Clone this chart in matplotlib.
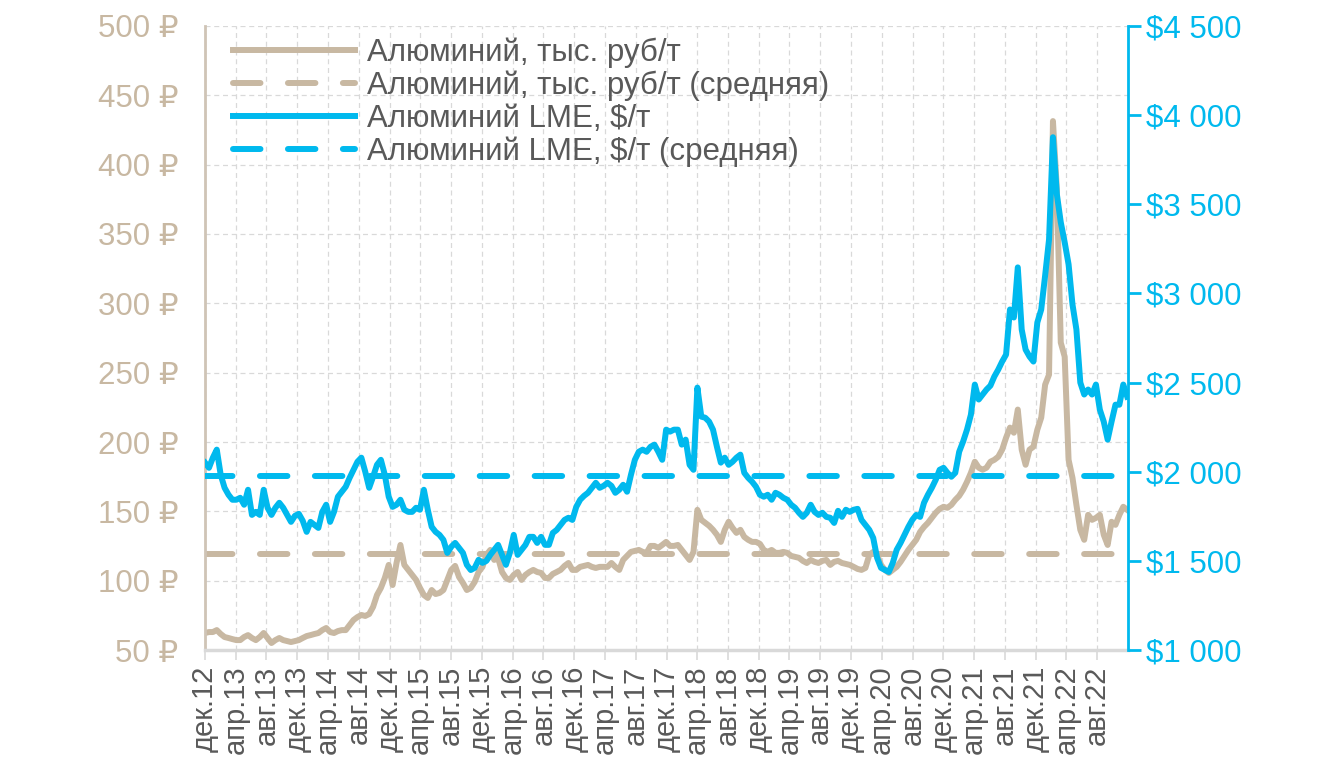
import numpy as np
import pandas as pd
import matplotlib
matplotlib.use("Agg")
import matplotlib.pyplot as plt

plt.rcParams["font.family"] = ["Liberation Sans", "DejaVu Sans"]

# цены на алюминий: LME, $/т и в рублях, тыс. руб/т (примерно раз в полмесяца)
lme_usd = [
    2051, 2022, 2079, 2124, 1983, 1910, 1871, 1843, 1843, 1854,
    1815, 1899, 1758, 1775, 1758, 1899, 1798, 1758, 1798, 1826,
    1798, 1758, 1719, 1753, 1764, 1725, 1663, 1719, 1702, 1685,
    1775, 1815, 1719, 1775, 1860, 1888, 1916, 1966, 2011, 2056,
    2079, 2000, 1910, 1972, 2039, 2067, 1983, 1860, 1803, 1815,
    1843, 1787, 1775, 1775, 1798, 1787, 1899, 1787, 1691, 1663,
    1646, 1618, 1545, 1579, 1601, 1573, 1545, 1478, 1449, 1461,
    1506, 1489, 1500, 1534, 1562, 1590, 1534, 1478, 1545, 1646,
    1534, 1562, 1590, 1635, 1635, 1601, 1635, 1590, 1590, 1657,
    1674, 1702, 1730, 1742, 1730, 1803, 1843, 1865, 1882, 1910,
    1938, 1910, 1921, 1938, 1921, 1882, 1899, 1927, 1888, 1983,
    2067, 2112, 2124, 2112, 2140, 2152, 2112, 2067, 2236, 2225,
    2236, 2236, 2152, 2180, 2039, 2011, 2472, 2309, 2303, 2281,
    2236, 2140, 2051, 2079, 2039, 2056, 2079, 2096, 1994, 1966,
    1944, 1916, 1871, 1860, 1871, 1843, 1882, 1871, 1854, 1843,
    1815, 1798, 1770, 1747, 1770, 1815, 1775, 1758, 1770, 1747,
    1742, 1713, 1781, 1747, 1787, 1775, 1787, 1792, 1730, 1702,
    1674, 1629, 1517, 1461, 1449, 1438, 1489, 1562, 1601, 1646,
    1691, 1730, 1758, 1747, 1826, 1871, 1910, 1955, 2011, 2022,
    1994, 1972, 1994, 2112, 2169, 2236, 2320, 2489, 2405, 2433,
    2461, 2483, 2534, 2573, 2618, 2657, 2910, 2865, 3146, 2798,
    2685, 2646, 2618, 2837, 2910, 3101, 3303, 3876, 3556, 3399,
    3287, 3163, 2938, 2798, 2500, 2433, 2461, 2433, 2489, 2348,
    2281, 2180, 2281, 2376, 2376, 2489, 2421,
]
alu_rub = [
    62.3, 63.0, 63.0, 64.4, 61.6, 59.4, 58.7, 57.9, 57.2, 57.2,
    59.4, 60.8, 58.7, 57.2, 59.4, 62.3, 58.7, 55.1, 57.2, 58.7,
    57.2, 56.5, 55.8, 56.5, 57.2, 58.7, 60.1, 60.8, 61.6, 62.3,
    64.4, 65.9, 63.0, 62.3, 63.7, 64.4, 64.4, 68.1, 71.7, 73.8,
    75.3, 74.6, 76.0, 81.1, 89.7, 94.8, 102.0, 111.4, 96.9, 112.8,
    125.8, 111.4, 107.8, 104.2, 100.6, 94.8, 89.7, 87.6, 93.3, 90.4,
    91.2, 93.3, 100.6, 107.8, 110.7, 102.7, 98.4, 93.3, 94.8, 99.1,
    106.3, 110.0, 118.6, 122.2, 115.0, 116.5, 106.3, 102.0, 100.6, 104.2,
    106.3, 100.6, 104.2, 106.3, 107.8, 106.3, 105.6, 102.0, 102.0, 104.9,
    106.3, 107.8, 110.7, 112.8, 107.8, 107.8, 110.0, 110.7, 111.4, 110.0,
    109.2, 110.0, 110.0, 110.0, 112.8, 110.0, 107.8, 115.0, 117.9, 120.8,
    121.5, 122.2, 120.8, 120.1, 125.1, 125.1, 123.7, 125.8, 128.0, 125.1,
    125.1, 125.8, 122.2, 118.6, 115.0, 120.8, 151.1, 143.9, 141.7, 139.6,
    136.7, 133.1, 128.0, 136.7, 142.5, 138.1, 134.5, 136.7, 131.6, 129.5,
    128.0, 128.0, 126.6, 122.2, 120.8, 122.2, 120.1, 120.1, 120.8, 120.1,
    117.9, 117.2, 116.5, 114.3, 112.8, 115.0, 113.6, 112.8, 114.3, 115.0,
    111.4, 113.6, 114.3, 112.8, 112.1, 111.4, 110.0, 108.5, 107.8, 109.2,
    118.6, 120.8, 118.6, 111.4, 107.8, 105.6, 107.8, 110.0, 113.6, 117.9,
    122.2, 125.8, 129.5, 135.2, 138.8, 141.7, 145.3, 149.0, 151.8, 153.3,
    152.6, 154.7, 158.3, 161.2, 165.6, 171.3, 177.8, 185.8, 181.5, 180.0,
    181.5, 185.8, 187.2, 189.4, 194.5, 203.1, 210.4, 206.7, 223.4, 194.5,
    183.6, 194.5, 196.6, 208.9, 217.6, 241.4, 248.6, 431.4, 382.3, 271.7,
    261.6, 187.2, 174.2, 154.7, 136.7, 129.5, 147.5, 143.9, 145.3, 147.5,
    133.1, 125.8, 142.5, 140.3, 147.5, 153.3, 151.1,
]
rub_avg = 119.5
usd_avg = 1975

month_names = {12: "дек", 4: "апр", 8: "авг"}

TAN = "#C8B8A2"
BLUE = "#00B9EE"
GRID = "#D9D9D9"
TEXT = "#595959"

dates = pd.date_range("2012-12-01", "2022-11-28", periods=len(lme_usd))
ticks = pd.date_range("2012-12-01", "2022-08-01", freq="4MS")

fig = plt.figure(figsize=(13.42, 7.63), dpi=100)
ax = fig.add_axes([0.1528, 0.148, 0.6877, 0.818])
ax2 = ax.twinx()

LW = 4.3
l1, = ax.plot(dates, alu_rub, color=TAN, lw=LW, solid_joinstyle="round",
              label="Алюминий, тыс. руб/т")
l2, = ax.plot([dates[0], dates[-1]], [rub_avg, rub_avg], color=TAN, lw=LW,
              dashes=(4.6, 4.6), dash_capstyle="round",
              label="Алюминий, тыс. руб/т (средняя)")
l3, = ax2.plot(dates, lme_usd, color=BLUE, lw=LW, solid_joinstyle="round",
               label="Алюминий LME, $/т")
l4, = ax2.plot([dates[0], dates[-1]], [usd_avg, usd_avg], color=BLUE, lw=LW,
               dashes=(4.6, 4.6), dash_capstyle="round",
               label="Алюминий LME, $/т (средняя)")

ax.set_xlim(pd.Timestamp("2012-12-01"), pd.Timestamp("2022-12-01"))
ax.set_ylim(50, 500)
ax2.set_ylim(1000, 4500)

ax.set_yticks(np.arange(50, 501, 50))
ax.set_yticklabels([f"{v} ₽" for v in range(50, 501, 50)])
ax2.set_yticks(np.arange(1000, 4501, 500))
ax2.set_yticklabels([f"${v:,}".replace(",", " ") for v in range(1000, 4501, 500)])

ax.set_xticks(ticks)
ax.set_xticklabels([f"{month_names[d.month]}.{d.strftime('%y')}" for d in ticks],
                   rotation=90)

ax.grid(True, color=GRID, ls=(0, (4, 3)), lw=0.9)
ax.set_axisbelow(True)

ax.tick_params(axis="y", length=0, labelsize=22.5, labelcolor=TAN, pad=19)
ax.tick_params(axis="x", length=7, width=1.2, color=GRID, labelsize=21,
               labelcolor=TEXT, pad=4)
ax2.tick_params(axis="y", length=9, width=2, color=BLUE, labelsize=22.5,
                labelcolor=BLUE, pad=4)

for s in ["top", "right"]:
    ax.spines[s].set_visible(False)
for s in ["top", "left", "bottom"]:
    ax2.spines[s].set_visible(False)
ax.spines["left"].set_color("#CFC4B6")
ax.spines["left"].set_linewidth(2)
ax.spines["bottom"].set_color(GRID)
ax.spines["bottom"].set_linewidth(2.5)
ax2.spines["right"].set_color(BLUE)
ax2.spines["right"].set_linewidth(2)

leg = ax2.legend(handles=[l1, l2, l3, l4], loc="upper left",
                 bbox_to_anchor=(0.01, 1.011), frameon=False, fontsize=22.5,
                 handlelength=3.9, handletextpad=0.4, labelspacing=0.08,
                 borderaxespad=0.2)
for t in leg.get_texts():
    t.set_color(TEXT)

fig.savefig("out.png", dpi=100)
